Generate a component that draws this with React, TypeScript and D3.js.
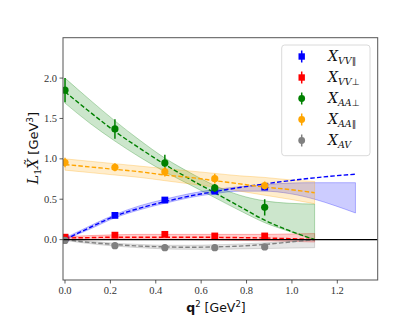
import * as d3 from "d3";

// fit grid (q^2) and fit curves with bands
const qFit = [0, 0.11, 0.22, 0.33, 0.44, 0.55, 0.66, 0.77, 0.88, 0.99, 1.1];
const qFitBlue = [0, 0.11, 0.22, 0.33, 0.44, 0.55, 0.66, 0.77, 0.88, 0.99, 1.1, 1.19, 1.28];

const vvParFit = [0.0, 0.15, 0.29, 0.39, 0.47, 0.54, 0.595, 0.645, 0.69, 0.73, 0.765, 0.79, 0.81];
const vvParHi = [0.02, 0.17, 0.31, 0.42, 0.5, 0.57, 0.62, 0.655, 0.68, 0.7, 0.705, 0.705, 0.705];
const vvParLo = [0.0, 0.13, 0.27, 0.37, 0.45, 0.52, 0.57, 0.6, 0.6, 0.57, 0.5, 0.42, 0.33];

const vvPerpFit = [0.02, 0.025, 0.03, 0.03, 0.03, 0.03, 0.028, 0.025, 0.02, 0.012, 0.0];
const vvPerpHi = [0.035, 0.05, 0.06, 0.065, 0.065, 0.065, 0.065, 0.065, 0.065, 0.07, 0.075];
const vvPerpLo = [0.0, 0.0, 0.005, 0.005, 0.005, 0.0, -0.005, -0.01, -0.015, -0.02, -0.03];

const aaPerpFit = [1.83, 1.58, 1.34, 1.13, 0.93, 0.75, 0.58, 0.41, 0.24, 0.11, 0.0];
const aaPerpHi = [2.0, 1.73, 1.47, 1.23, 1.01, 0.83, 0.67, 0.55, 0.48, 0.45, 0.44];
const aaPerpLo = [1.69, 1.44, 1.22, 1.02, 0.84, 0.68, 0.52, 0.36, 0.21, 0.1, 0.0];

const aaParFit = [0.93, 0.9, 0.87, 0.84, 0.8, 0.77, 0.73, 0.69, 0.65, 0.62, 0.58];
const aaParHi = [1.0, 0.97, 0.94, 0.91, 0.88, 0.85, 0.82, 0.79, 0.77, 0.74, 0.72];
const aaParLo = [0.86, 0.83, 0.8, 0.77, 0.73, 0.69, 0.65, 0.6, 0.55, 0.5, 0.445];

const avFit = [0.0, -0.035, -0.06, -0.08, -0.09, -0.095, -0.09, -0.08, -0.06, -0.03, 0.0];
const avHi = [0.01, -0.02, -0.045, -0.06, -0.07, -0.07, -0.065, -0.055, -0.04, -0.02, 0.0];
const avLo = [-0.01, -0.05, -0.08, -0.1, -0.115, -0.12, -0.12, -0.115, -0.11, -0.105, -0.1];

// lattice data points
const qData = [0, 0.22, 0.44, 0.66, 0.88];
const vvParVal = [0.02, 0.3, 0.49, 0.6, 0.65];
const vvParErr = [0.02, 0.02, 0.03, 0.03, 0.04];
const vvPerpVal = [0.03, 0.055, 0.065, 0.045, 0.045];
const vvPerpErr = [0.015, 0.015, 0.015, 0.015, 0.015];
const aaPerpVal = [1.85, 1.37, 0.95, 0.64, 0.4];
const aaPerpErr = [0.15, 0.12, 0.1, 0.05, 0.1];
const aaParVal = [0.955, 0.895, 0.84, 0.755, 0.67];
const aaParErr = [0.06, 0.05, 0.06, 0.06, 0.05];
const avVal = [-0.01, -0.075, -0.1, -0.1, -0.09];
const avErr = [0.04, 0.04, 0.04, 0.04, 0.04];

const xTicks = [0, 0.2, 0.4, 0.6, 0.8, 1.0, 1.2];
const yTicks = [0, 0.5, 1.0, 1.5, 2.0];

type Series = {
  sub: string;
  sym: string;
  color: string;
  marker: "square" | "circle";
  qf: number[];
  fit: number[];
  hi: number[];
  lo: number[];
  val: number[];
  err: number[];
};

const series: Series[] = [
  { sub: "VV", sym: "\u2225", color: "#0000ff", marker: "square", qf: qFitBlue, fit: vvParFit, hi: vvParHi, lo: vvParLo, val: vvParVal, err: vvParErr },
  { sub: "VV", sym: "\u22a5", color: "#ff0000", marker: "square", qf: qFit, fit: vvPerpFit, hi: vvPerpHi, lo: vvPerpLo, val: vvPerpVal, err: vvPerpErr },
  { sub: "AA", sym: "\u22a5", color: "#008000", marker: "circle", qf: qFit, fit: aaPerpFit, hi: aaPerpHi, lo: aaPerpLo, val: aaPerpVal, err: aaPerpErr },
  { sub: "AA", sym: "\u2225", color: "#ffa500", marker: "circle", qf: qFit, fit: aaParFit, hi: aaParHi, lo: aaParLo, val: aaParVal, err: aaParErr },
  { sub: "AV", sym: "", color: "#808080", marker: "circle", qf: qFit, fit: avFit, hi: avHi, lo: avLo, val: avVal, err: avErr },
];

const W = 420;
const H = 315;
const left = 63;
const right = 377.7;
const top = 37.7;
const bottom = 280;

const x = d3.scaleLinear().domain([-0.0088, 1.378]).range([left, right]);
const y = d3.scaleLinear().domain([-0.5, 2.5]).range([bottom, top]);

const serif = "'DejaVu Serif', serif";
const tickFont = "'Liberation Serif', serif";
const sans = "'DejaVu Sans', sans-serif";

function Marker({ kind, cx, cy, color, s }: { kind: string; cx: number; cy: number; color: string; s: number }) {
  return kind === "square" ? (
    <rect x={cx - s} y={cy - s} width={2 * s} height={2 * s} fill={color} />
  ) : (
    <circle cx={cx} cy={cy} r={s} fill={color} />
  );
}

export default function App() {
  const lineFor = (s: Series) =>
    d3
      .line<number>()
      .x((_, i) => x(s.qf[i]))
      .y((d) => y(d))
      .curve(d3.curveMonotoneX)(s.fit) || "";
  const areaFor = (s: Series) =>
    d3
      .area<number>()
      .x((_, i) => x(s.qf[i]))
      .y0((_, i) => y(s.lo[i]))
      .y1((d) => y(d))
      .curve(d3.curveMonotoneX)(s.hi) || "";

  const legX = 281.7;
  const legY = 45;
  const rowH = 21;

  return (
    <svg width={W} height={H} style={{ position: "absolute", left: 0, top: 0, background: "#fff" }}>
      <defs>
        <clipPath id="plot">
          <rect x={left} y={top} width={right - left} height={bottom - top} />
        </clipPath>
      </defs>
      <rect width={W} height={H} fill="#fff" />
      <g clipPath="url(#plot)">
        {series.map((s, i) => (
          <path key={"b" + i} d={areaFor(s)} fill={s.color} fillOpacity={0.2} stroke={s.color} strokeOpacity={0.35} strokeWidth={0.8} />
        ))}
        {series.map((s, i) => (
          <path key={"l" + i} d={lineFor(s)} fill="none" stroke={s.color} strokeWidth={1.4} strokeDasharray="4.5,2.2" />
        ))}
        {series.map((s, i) => (
          <g key={"p" + i}>
            {qData.map((q, j) => (
              <g key={j}>
                <line x1={x(q)} x2={x(q)} y1={y(s.val[j] - s.err[j])} y2={y(s.val[j] + s.err[j])} stroke={s.color} strokeWidth={1.5} />
                <Marker kind={s.marker} cx={x(q)} cy={y(s.val[j])} color={s.color} s={s.marker === "square" ? 3.4 : 3.6} />
              </g>
            ))}
          </g>
        ))}
        <line x1={left} x2={right} y1={y(0)} y2={y(0)} stroke="#000" strokeWidth={1.2} />
      </g>

      {/* frame */}
      <rect x={left} y={top} width={right - left} height={bottom - top} fill="none" stroke="#555" strokeWidth={1} />

      {/* x axis */}
      {xTicks.map((t) => (
        <g key={"xt" + t}>
          <line x1={x(t)} x2={x(t)} y1={bottom} y2={bottom + 3.5} stroke="#333" strokeWidth={0.8} />
          <text x={x(t)} y={bottom + 14} textAnchor="middle" fontFamily={tickFont} fontSize={10.5} fill="#333">
            {t.toFixed(1)}
          </text>
        </g>
      ))}
      {/* y axis */}
      {yTicks.map((t) => (
        <g key={"yt" + t}>
          <line x1={left - 3.5} x2={left} y1={y(t)} y2={y(t)} stroke="#333" strokeWidth={0.8} />
          <text x={left - 6} y={y(t) + 3.5} textAnchor="end" fontFamily={tickFont} fontSize={10.5} fill="#333">
            {t.toFixed(1)}
          </text>
        </g>
      ))}

      {/* axis labels */}
      <text x={216} y={312} textAnchor="middle" fontFamily={sans} fontSize={12.5} fill="#111">
        <tspan fontWeight="bold">q</tspan>
        <tspan fontSize={8.5} dy={-5}>2</tspan>
        <tspan dy={5}> [GeV</tspan>
        <tspan fontSize={8.5} dy={-5}>2</tspan>
        <tspan dy={5}>]</tspan>
      </text>
      <text transform="translate(38,148) rotate(-90)" textAnchor="middle" fontFamily={sans} fontSize={13} fill="#111">
        <tspan fontFamily={serif} fontStyle="italic" fontSize={14}>L</tspan>
        <tspan fontFamily={serif} fontSize={9.5} dy={3}>1</tspan>
        <tspan fontFamily={serif} fontStyle="italic" fontSize={14} dy={-3}>{"X\u0303"}</tspan>
        <tspan> [GeV</tspan>
        <tspan fontSize={9} dy={-5}>3</tspan>
        <tspan dy={5}>]</tspan>
      </text>

      {/* legend */}
      <rect x={legX} y={legY} width={88.3} height={110.7} rx={3} fill="#fff" fillOpacity={0.85} stroke="#d0d0d0" strokeWidth={0.8} />
      {series.map((s, i) => {
        const cy = legY + 11.5 + i * rowH;
        return (
          <g key={"lg" + i}>
            <line x1={301.7} x2={301.7} y1={cy - 6} y2={cy + 6} stroke={s.color} strokeWidth={1.5} />
            <Marker kind={s.marker} cx={301.7} cy={cy} color={s.color} s={s.marker === "square" ? 3.2 : 3.4} />
            <text x={328} y={cy + 4} fontFamily={serif} fontSize={14} fill="#111">
              <tspan fontStyle="italic">X</tspan>
              <tspan fontSize={9.5} dy={3} fontStyle="italic">{s.sub}</tspan>
              <tspan fontSize={9} fontFamily={sans} fontWeight="normal">{s.sym}</tspan>
            </text>
          </g>
        );
      })}
    </svg>
  );
}
